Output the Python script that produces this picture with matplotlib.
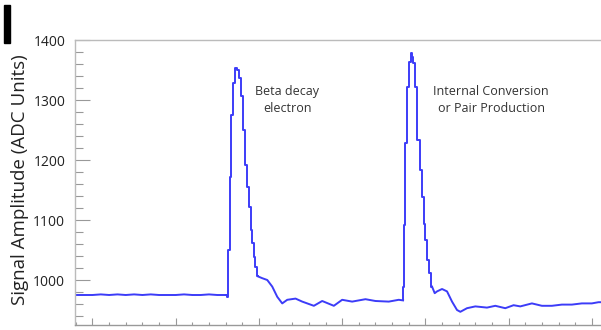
import numpy as np
import matplotlib
matplotlib.use('Agg')
import matplotlib.pyplot as plt
from matplotlib.patches import Rectangle
from matplotlib.ticker import MultipleLocator

plt.rcParams['font.family'] = ['Open Sans', 'DejaVu Sans']

# sample index (arbitrary time units) and ADC signal
sample = [-10, 0, 5, 10, 15, 20, 25, 30, 35, 40, 45, 50, 55, 60, 65, 70, 75, 80.5,
          81, 82, 83, 84, 85, 86, 87.4, 88.6, 90, 91, 92.4, 93.6, 94.6, 95.6, 96.4,
          97.4, 98.2, 99.4, 102, 105, 108, 111, 114, 117, 122, 126, 133,
          138, 145, 150, 156, 164, 170, 178, 184, 186.6,
          187, 187.4, 188.4, 189.4, 190.6, 191.6, 192.4, 193, 194.4, 196, 197,
          198.4, 199.6, 200.4, 201.6, 202.6, 204, 205.6, 207, 210, 213, 216,
          219, 221, 225, 230, 237, 242, 248, 253, 257, 264, 270, 276, 282,
          288, 294, 300, 304, 309]
signal = [975, 975, 976, 975, 976, 975, 976, 975, 976, 975, 975, 975, 976, 975, 975, 976, 975, 975,
          972, 1050, 1172, 1275, 1328, 1353, 1350, 1336, 1306, 1250, 1192, 1155, 1122, 1083, 1061,
          1039, 1022, 1006, 1003, 1000, 989, 972, 961, 967, 969, 964, 957,
          965, 957, 967, 964, 968, 965, 964, 967, 966,
          989, 1092, 1228, 1322, 1364, 1378, 1372, 1361, 1322, 1233, 1183,
          1139, 1094, 1067, 1033, 1011, 989, 978, 981, 985, 981, 964,
          950, 947, 953, 956, 954, 957, 953, 958, 956, 961, 957, 957, 959,
          959, 961, 961, 963, 963]

# the two pulses are drawn as a staircase (ADC sampling), the rest as a line
pulse_ranges = [(80.5, 99.4), (186.6, 204)]

labels = ['Beta decay\nelectron', 'Internal Conversion\nor Pair Production']
label_x = [117, 239.5]
label_y = [1300, 1300]


def main():
    x = np.array(sample)
    y = np.array(signal)
    fig = plt.figure(figsize=(6.01, 3.30), dpi=100)
    ax = fig.add_axes([75 / 601, 5 / 330, 526 / 601, 285 / 330])

    blue = '#3c3cf8'
    edges = [x.min()] + [v for r in pulse_ranges for v in r] + [x.max()]
    for i in range(0, len(edges), 2):
        m = (x >= edges[i]) & (x <= edges[i + 1])
        ax.plot(x[m], y[m], color=blue, lw=1.4)
    for lo, hi in pulse_ranges:
        m = (x >= lo) & (x <= hi)
        ax.plot(x[m], y[m], color=blue, lw=1.4, drawstyle='steps-mid')

    ax.set_xlim(-10.5, 305.5)
    ax.set_ylim(925, 1400)
    ax.xaxis.set_major_locator(MultipleLocator(50))
    ax.xaxis.set_minor_locator(MultipleLocator(10))
    ax.yaxis.set_major_locator(MultipleLocator(100))
    ax.yaxis.set_minor_locator(MultipleLocator(20))

    ax.tick_params(axis='y', which='major', direction='in', length=11, width=0.8,
                   color='#999999', labelsize=10, labelcolor='#222222', pad=7)
    ax.tick_params(axis='y', which='minor', direction='in', length=5.5, width=0.8,
                   color='#999999')
    ax.tick_params(axis='x', which='major', direction='in', length=5, width=0.8,
                   color='#999999', labelbottom=False)
    ax.tick_params(axis='x', which='minor', direction='in', length=2.2, width=0.8,
                   color='#999999')

    ax.spines['right'].set_visible(False)
    for side in ['left', 'top', 'bottom']:
        ax.spines[side].set_color('#bbbbbb')
        ax.spines[side].set_linewidth(1.0)
    ax.spines['bottom'].set_color('#999999')

    for txt, tx, ty in zip(labels, label_x, label_y):
        ax.text(tx, ty, txt, ha='center', va='center', fontsize=9,
                color='#333333', linespacing=1.4)

    fig.text(0.033, 0.455, 'Signal Amplitude (ADC Units)', rotation=90,
             ha='center', va='center', fontsize=13.5, color='#222222')

    # bar from the cut-off panel label in the corner
    fig.patches.append(Rectangle((4 / 601, 1 - 43 / 330), 6 / 601, 38 / 330,
                                 transform=fig.transFigure, color='black'))

    fig.savefig('out.png', dpi=100)


if __name__ == '__main__':
    main()
